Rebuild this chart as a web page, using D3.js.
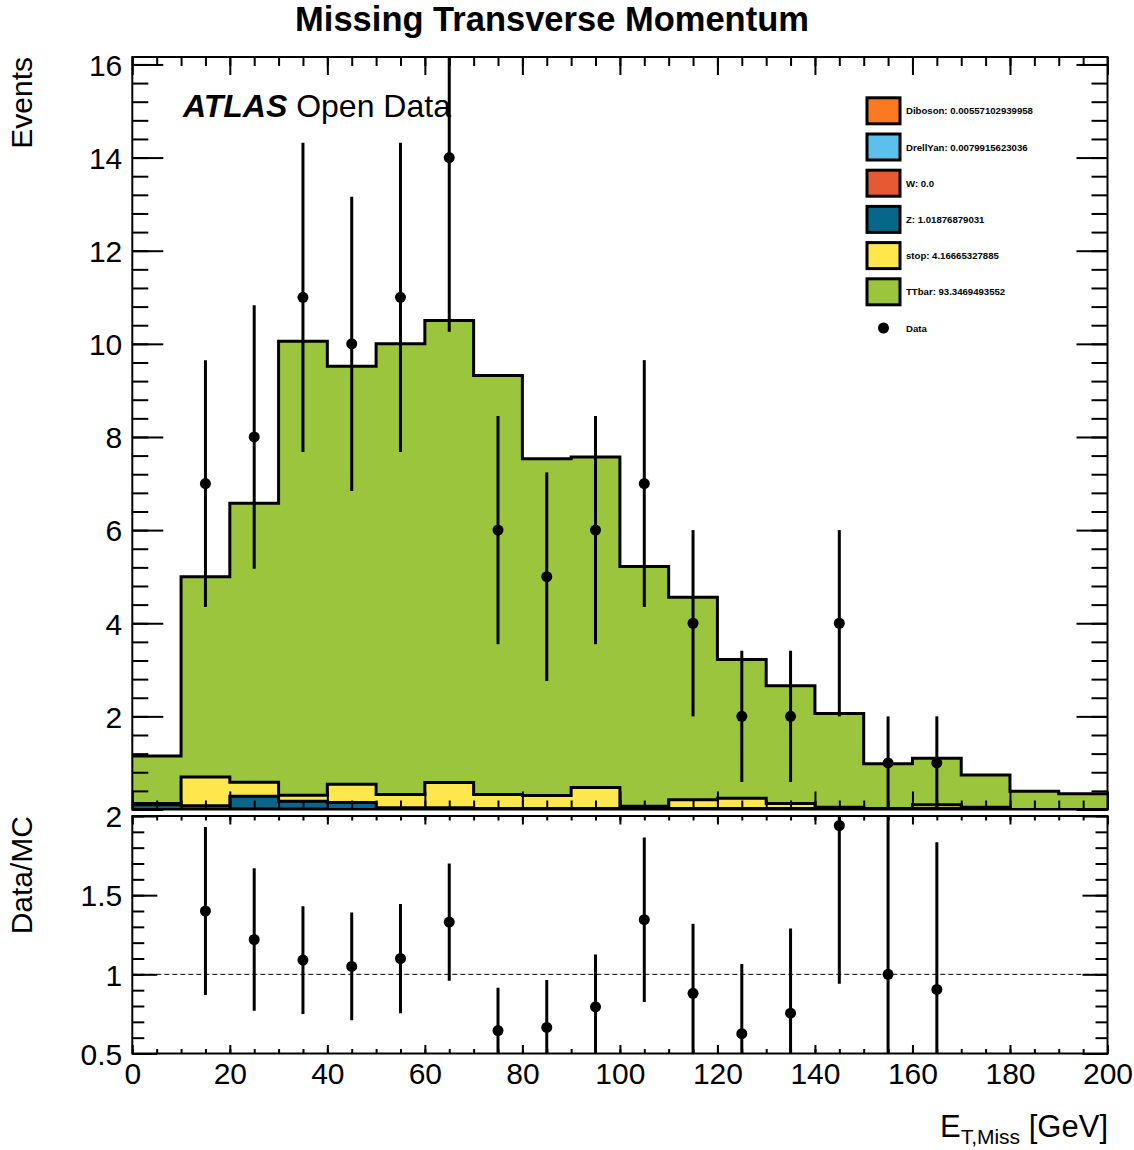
<!DOCTYPE html>
<html>
<head>
<meta charset="utf-8">
<script src="https://cdn.jsdelivr.net/npm/d3@7/dist/d3.min.js"></script>
<style>
  body { margin: 0; background: #fff; }
  svg { display: block; font-family: "Liberation Sans", Arial, Helvetica, sans-serif; }
  .axis path.domain { display: none; }
  .axis line { stroke: #000; stroke-width: 2; }
  .lab text { font-size: 30px; fill: #000; }
</style>
</head>
<body>
<svg></svg>
<script>

// bin low edges (GeV), width 10
var binLo = [0, 10, 20, 30, 40, 50, 60, 70, 80, 90, 100, 110, 120, 130, 140, 150, 160, 170, 180, 190];

// MC samples, per bin
var diboson  = [0, 0, 0.005, 0, 0, 0, 0, 0, 0, 0, 0, 0, 0, 0, 0, 0, 0, 0, 0, 0];
var drellyan = [0, 0, 0, 0.008, 0, 0, 0, 0, 0, 0, 0, 0, 0, 0, 0, 0, 0, 0, 0, 0];
var wjets    = [0, 0, 0, 0, 0, 0, 0, 0, 0, 0, 0, 0, 0, 0, 0, 0, 0, 0, 0, 0];
var zjets    = [0.10, 0.08, 0.28, 0.17, 0.15, 0.04, 0.04, 0.02, 0.02, 0.02, 0.02, 0.02, 0.02, 0.02, 0, 0, 0.02, 0, 0, 0];
var stop     = [0.03, 0.62, 0.30, 0.13, 0.39, 0.28, 0.54, 0.30, 0.28, 0.45, 0.05, 0.19, 0.22, 0.11, 0.05, 0.02, 0.08, 0.05, 0, 0];
var ttbar    = [1.02, 4.30, 5.99, 9.75, 8.98, 9.68, 9.92, 9.00, 7.23, 7.10, 5.15, 4.35, 2.98, 2.53, 2.01, 0.96, 1.00, 0.69, 0.39, 0.34];

var sampleNames  = ["Diboson", "DrellYan", "W", "Z", "stop", "TTbar"];
var sampleTotals = ["0.00557102939958", "0.0079915623036", "0.0", "1.01876879031", "4.16665327885", "93.3469493552"];
var sampleColors = ["#fa7921", "#5bc0eb", "#e55934", "#086788", "#fde74c", "#9bc53d"];

// data points
var dataX   = [15, 25, 35, 45, 55, 65, 75, 85, 95, 105, 115, 125, 135, 145, 155, 165];
var dataY   = [7, 8, 11, 10, 11, 14, 6, 5, 6, 7, 4, 2, 2, 4, 1, 1];
var dataErr = [2.65, 2.83, 3.32, 3.16, 3.32, 3.74, 2.45, 2.24, 2.45, 2.65, 2, 1.41, 1.41, 2, 1, 1];

// data / MC
var ratioY   = [1.40, 1.22, 1.09, 1.05, 1.10, 1.33, 0.645, 0.665, 0.795, 1.345, 0.88, 0.625, 0.755, 1.94, 1.0, 0.905];
var ratioErr = [0.53, 0.45, 0.34, 0.34, 0.345, 0.37, 0.27, 0.30, 0.33, 0.52, 0.44, 0.44, 0.535, 1.0, 1.0, 0.93];

var xTicks = [0, 20, 40, 60, 80, 100, 120, 140, 160, 180, 200];
var yTicks = [2, 4, 6, 8, 10, 12, 14, 16];
var rTicks = [0.5, 1, 1.5, 2];

var width = 1134, height = 1150,
    svg = d3.select("svg").attr("width", width).attr("height", height);

var x  = d3.scaleLinear().domain([0, 200]).range([132.3, 1107.5]),
    y  = d3.scaleLinear().domain([0, 16.16]).range([809.5, 57]),
    yr = d3.scaleLinear().domain([0.5, 2]).range([1053.5, 816]);

var defs = svg.append("defs");
defs.append("clipPath").attr("id", "clipMain").append("rect")
    .attr("x", x(0)).attr("y", y(16.16)).attr("width", x(200) - x(0)).attr("height", y(0) - y(16.16));
defs.append("clipPath").attr("id", "clipRatio").append("rect")
    .attr("x", x(0)).attr("y", yr(2)).attr("width", x(200) - x(0)).attr("height", yr(0.5) - yr(2));

// ---- stacked histogram
var table = binLo.map((lo, i) => ({
  lo: lo, Diboson: diboson[i], DrellYan: drellyan[i], W: wjets[i], Z: zjets[i], stop: stop[i], TTbar: ttbar[i]
}));
table.push(Object.assign({}, table[table.length - 1], {lo: 200}));

var layers = d3.stack().keys(sampleNames)(table);

var area = d3.area().curve(d3.curveStepAfter)
    .x(d => x(d.data.lo)).y0(y(0)).y1(d => y(d[1]));
var outline = d3.line().curve(d3.curveStepAfter)
    .x(d => x(d.data.lo)).y(d => y(d[1]));

var main = svg.append("g").attr("clip-path", "url(#clipMain)");

layers.slice().reverse().forEach(function(layer) {
  var c = sampleColors[sampleNames.indexOf(layer.key)];
  main.append("path").attr("d", area(layer)).attr("fill", c);
  main.append("path").attr("d", outline(layer))
      .attr("fill", "none").attr("stroke", "#000").attr("stroke-width", 3);
});

// data
var pts = dataX.map((v, i) => ({x: v, y: dataY[i], e: dataErr[i]}));
main.selectAll(".err").data(pts).enter().append("line")
    .attr("x1", d => x(d.x)).attr("x2", d => x(d.x))
    .attr("y1", d => y(Math.max(0, d.y - d.e))).attr("y2", d => y(d.y + d.e))
    .attr("stroke", "#000").attr("stroke-width", 3);
main.selectAll(".pt").data(pts).enter().append("circle")
    .attr("cx", d => x(d.x)).attr("cy", d => y(d.y)).attr("r", 5.5).attr("fill", "#000");

// ---- ratio panel
var rat = svg.append("g").attr("clip-path", "url(#clipRatio)");
rat.append("line")
    .attr("x1", x(0)).attr("x2", x(200)).attr("y1", yr(1)).attr("y2", yr(1))
    .attr("stroke", "#000").attr("stroke-width", 1).attr("stroke-dasharray", "5,3");
var rpts = dataX.map((v, i) => ({x: v, y: ratioY[i], e: ratioErr[i]}));
rat.selectAll(".rerr").data(rpts).enter().append("line")
    .attr("x1", d => x(d.x)).attr("x2", d => x(d.x))
    .attr("y1", d => yr(d.y - d.e)).attr("y2", d => yr(d.y + d.e))
    .attr("stroke", "#000").attr("stroke-width", 3);
rat.selectAll(".rpt").data(rpts).enter().append("circle")
    .attr("cx", d => x(d.x)).attr("cy", d => yr(d.y)).attr("r", 5.5).attr("fill", "#000");

// ---- ticks (ROOT style, inward on all sides)
function ticks(axisFn, scale, vals, size, tr) {
  svg.append("g").attr("class", "axis").attr("transform", tr)
     .call(axisFn(scale).tickValues(vals).tickSize(-size).tickFormat(""));
}
var minorX = d3.range(0, 201, 5), minorY = d3.range(0, 16.1, 0.4), minorR = d3.range(0.5, 2.01, 0.1);
var majorYall = [0].concat(yTicks);

ticks(d3.axisBottom, x, minorX, 9, "translate(0," + y(0) + ")");
ticks(d3.axisBottom, x, xTicks, 18, "translate(0," + y(0) + ")");
ticks(d3.axisTop, x, minorX, 9, "translate(0," + y(16.16) + ")");
ticks(d3.axisTop, x, xTicks, 18, "translate(0," + y(16.16) + ")");
ticks(d3.axisLeft, y, minorY, 16, "translate(" + x(0) + ",0)");
ticks(d3.axisLeft, y, majorYall, 31, "translate(" + x(0) + ",0)");
ticks(d3.axisRight, y, minorY, 16, "translate(" + x(200) + ",0)");
ticks(d3.axisRight, y, majorYall, 31, "translate(" + x(200) + ",0)");

ticks(d3.axisBottom, x, minorX, 4.5, "translate(0," + yr(0.5) + ")");
ticks(d3.axisBottom, x, xTicks, 8.5, "translate(0," + yr(0.5) + ")");
ticks(d3.axisTop, x, minorX, 4.5, "translate(0," + yr(2) + ")");
ticks(d3.axisTop, x, xTicks, 8.5, "translate(0," + yr(2) + ")");
ticks(d3.axisLeft, yr, minorR, 12, "translate(" + x(0) + ",0)");
ticks(d3.axisLeft, yr, rTicks, 25, "translate(" + x(0) + ",0)");
ticks(d3.axisRight, yr, minorR, 12, "translate(" + x(200) + ",0)");
ticks(d3.axisRight, yr, rTicks, 25, "translate(" + x(200) + ",0)");

// tick labels
svg.append("g").attr("class", "axis lab").attr("transform", "translate(" + x(0) + ",0)")
   .call(d3.axisLeft(y).tickValues(yTicks).tickSize(0).tickPadding(10))
   .selectAll("text").attr("dy", "0.36em");
svg.append("g").attr("class", "axis lab").attr("transform", "translate(" + x(0) + ",0)")
   .call(d3.axisLeft(yr).tickValues(rTicks).tickSize(0).tickPadding(10).tickFormat(d => String(d)))
   .selectAll("text").attr("dy", "0.36em");
svg.append("g").attr("class", "axis lab").attr("transform", "translate(0," + yr(0.5) + ")")
   .call(d3.axisBottom(x).tickValues(xTicks).tickSize(0).tickPadding(9))
   .selectAll("text").attr("dy", "0.71em");

// frames
[[y(16.16), y(0)], [yr(2), yr(0.5)]].forEach(function(r) {
  svg.append("rect").attr("x", x(0)).attr("y", r[0])
     .attr("width", x(200) - x(0)).attr("height", r[1] - r[0])
     .attr("fill", "none").attr("stroke", "#000").attr("stroke-width", 2);
});

// ---- texts
svg.append("text").attr("x", 552).attr("y", 31).attr("text-anchor", "middle")
   .attr("font-size", 34.5).attr("font-weight", "bold").text("Missing Transverse Momentum");

var atl = svg.append("text").attr("x", 183).attr("y", 117).attr("font-size", 32);
atl.append("tspan").attr("font-weight", "bold").attr("font-style", "italic").text("ATLAS");
atl.append("tspan").text(" Open Data");

svg.append("text").attr("transform", "translate(32," + y(16.16) + ") rotate(-90)")
   .attr("text-anchor", "end").attr("font-size", 30).text("Events");
svg.append("text").attr("transform", "translate(32," + yr(2) + ") rotate(-90)")
   .attr("text-anchor", "end").attr("font-size", 30).text("Data/MC");

var xt = svg.append("text").attr("x", 1108).attr("y", 1137).attr("text-anchor", "end").attr("font-size", 31);
xt.append("tspan").text("E");
xt.append("tspan").attr("font-size", 21).attr("dy", 7).text("T,Miss");
xt.append("tspan").attr("dy", -7).text(" [GeV]");

// ---- legend
var leg = svg.append("g").attr("transform", "translate(867,0)");
sampleNames.forEach(function(n, i) {
  var cy = 110.8 + i * 36.2;
  leg.append("rect").attr("x", 0).attr("y", cy - 13).attr("width", 33).attr("height", 26)
     .attr("fill", sampleColors[i]).attr("stroke", "#000").attr("stroke-width", 3);
  leg.append("text").attr("x", 39).attr("y", cy + 3.5).attr("font-size", 9.6).attr("font-weight", "bold")
     .text(n + ": " + sampleTotals[i]);
});
leg.append("circle").attr("cx", 16.5).attr("cy", 110.8 + 6 * 36.2).attr("r", 5.5).attr("fill", "#000");
leg.append("text").attr("x", 39).attr("y", 110.8 + 6 * 36.2 + 3.5).attr("font-size", 9.6)
   .attr("font-weight", "bold").text("Data");

</script>
</body>
</html>
